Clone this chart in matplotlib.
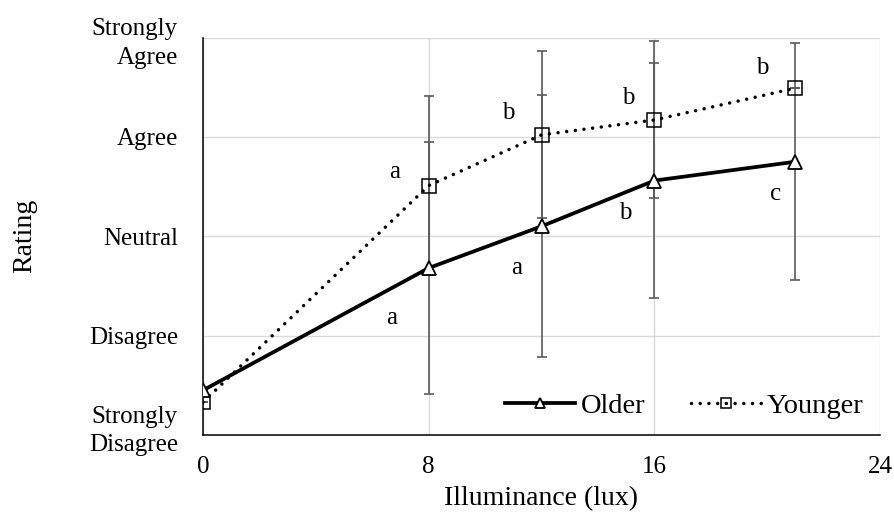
import numpy as np
import matplotlib.pyplot as plt
from matplotlib.transforms import ScaledTranslation

plt.rcParams['font.family'] = ['Liberation Serif', 'DejaVu Serif']

lux = [0, 8, 12, 16, 21]
older = [1.45, 2.68, 3.10, 3.56, 3.75]
older_err = [0.0, 1.27, 1.32, 1.18, 1.19]
younger = [1.33, 3.51, 4.02, 4.17, 4.49]
younger_err = [0.0, 0.90, 0.84, 0.79, 0.0]

older_letters = ['a', 'a', 'b', 'c']
older_letter_pos = [(6.70, 2.18), (11.13, 2.68), (14.96, 3.23), (20.28, 3.43)]
younger_letters = ['a', 'b', 'b', 'b']
younger_letter_pos = [(6.81, 3.65), (10.81, 4.24), (15.07, 4.39), (19.82, 4.69)]

ytick_labels = ['Strongly\nDisagree', 'Disagree', 'Neutral', 'Agree', 'Strongly\nAgree']

fig = plt.figure(figsize=(8.95, 5.21), dpi=100)
ax = fig.add_axes([203/895, 1-435/521, 677/895, 397.5/521])

# error bars (one set per group)
ax.errorbar(lux, older, yerr=older_err, fmt='none', ecolor='#5a5a5a', elinewidth=1.2, capsize=3.6, capthick=1.2, zorder=2)
ax.errorbar(lux, younger, yerr=younger_err, fmt='none', ecolor='#5a5a5a', elinewidth=1.2, capsize=3.6, capthick=1.2, zorder=2)

ax.plot(lux, older, color='black', lw=2.7, marker='^', markersize=10, markerfacecolor='white',
        markeredgecolor='black', markeredgewidth=1.3, label='Older', zorder=4)
ax.plot(lux, younger, color='black', lw=2.5, linestyle=(0, (0.01, 2.5)), dash_capstyle='round',
        marker='s', markersize=9.5, markerfacecolor='none', markeredgecolor='black', markeredgewidth=1.1,
        label='Younger', zorder=3)

for t, (x, y) in zip(older_letters, older_letter_pos):
    ax.text(x, y, t, fontsize=18, ha='center', va='center')
for t, (x, y) in zip(younger_letters, younger_letter_pos):
    ax.text(x, y, t, fontsize=18, ha='center', va='center')

ax.set_xlim(0, 24)
ax.set_ylim(1, 5)
ax.set_xticks([0, 8, 16, 24])
ax.set_yticks([1, 2, 3, 4, 5])
ax.set_yticklabels(ytick_labels, fontsize=18, ha='right')
ax.tick_params(axis='y', length=0, pad=18)
ax.tick_params(axis='x', length=0, labelsize=18, pad=15)
ylabels = ax.get_yticklabels()
for lbl in ylabels:
    lbl.set_linespacing(1.4)
# bottom two-line label sits a bit higher in the original
ylabels[0].set_transform(ylabels[0].get_transform() + ScaledTranslation(0, 10/100, fig.dpi_scale_trans))

ax.grid(True, color='#d9d9d9', lw=1.0)
ax.set_axisbelow(True)
for s in ['top', 'right']:
    ax.spines[s].set_visible(False)
ax.spines['left'].set_linewidth(1.1)
ax.spines['bottom'].set_linewidth(1.1)

ax.set_xlabel('Illuminance (lux)', fontsize=20, labelpad=6)
ax.set_ylabel('Rating', fontsize=20)
ax.yaxis.set_label_coords(-0.2445, 0.5)

ax.legend(loc='center right', ncol=2, frameon=False, fontsize=20.5, handlelength=2.45,
          handletextpad=0.2, columnspacing=1.6, borderpad=0, borderaxespad=0,
          bbox_to_anchor=(0.975, 0.073), markerscale=0.75)

fig.savefig('out.png', dpi=100)
